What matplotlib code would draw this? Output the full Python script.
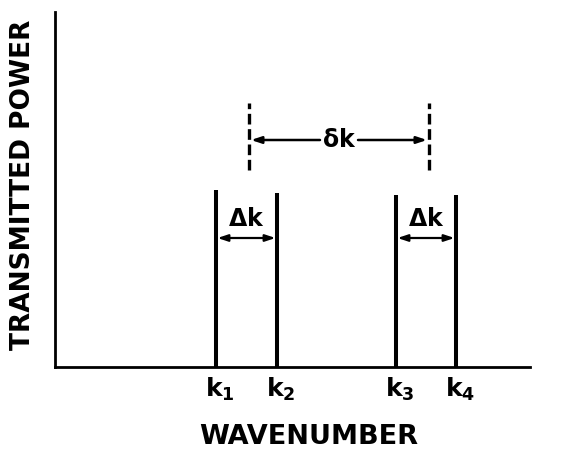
import matplotlib
matplotlib.use('Agg')
import matplotlib.pyplot as plt

plt.rcParams['mathtext.fontset'] = 'dejavusans'

# wavenumber positions of the four transmitted lines and their heights
k_labels = ['k_1', 'k_2', 'k_3', 'k_4']
k_pos = [161, 222, 341, 401]
k_power = [177, 174, 172, 172]

# dashed markers for the line-pair separation (delta k)
sep_pos = [194, 374]
sep_span = (197, 264)
sep_y = 227
delta_y = 129

font = dict(family='DejaVu Sans', weight='heavy', color='black')

fig = plt.figure(figsize=(5.64, 4.55), dpi=100)
ax = fig.add_axes([55 / 564, 88 / 455, 475 / 564, 355 / 455])
ax.set_xlim(0, 475)
ax.set_ylim(0, 355)

for s in ['top', 'right']:
    ax.spines[s].set_visible(False)
for s in ['left', 'bottom']:
    ax.spines[s].set_linewidth(2)
ax.set_xticks([])
ax.set_yticks([])

ax.vlines(k_pos, 0, k_power, color='black', lw=2.9)
ax.vlines(sep_pos, sep_span[0], sep_span[1], color='black', lw=2.4, linestyles=(0, (3.2, 1.4)))

# delta-k separation arrow
mid = (sep_pos[0] + sep_pos[1]) / 2
ax.text(mid, sep_y, r'$\mathbf{\delta k}$', ha='center', va='center', fontsize=17, **font)
arrow = dict(arrowstyle='-|>,head_length=0.6,head_width=0.2', color='black', lw=1.8, shrinkA=0, shrinkB=0)
ax.annotate('', xy=(sep_pos[0] + 2, sep_y), xytext=(mid - 19, sep_y), arrowprops=arrow)
ax.annotate('', xy=(sep_pos[1] - 2, sep_y), xytext=(mid + 19, sep_y), arrowprops=arrow)

# Delta-k line widths
darrow = dict(arrowstyle='<|-|>,head_length=0.6,head_width=0.2', color='black', lw=1.6, shrinkA=0, shrinkB=0)
for a, b in [(k_pos[0], k_pos[1]), (k_pos[2], k_pos[3])]:
    ax.annotate('', xy=(a + 1.5, delta_y), xytext=(b - 1.5, delta_y), arrowprops=darrow)
    ax.text((a + b) / 2, delta_y + 7, r'$\mathbf{\Delta k}$', ha='center', va='bottom', fontsize=17, **font)

for x, lab in zip(k_pos, k_labels):
    ax.text(x + 4, -9, r'$\mathbf{%s}$' % lab, ha='center', va='top', fontsize=18, **font)

fig.text(309 / 564, 1 - 437 / 455, 'WAVENUMBER', ha='center', va='center', fontsize=19.5, **font)
fig.text(23 / 564, 1 - 185 / 455, 'TRANSMITTED POWER', ha='center', va='center', rotation=90, fontsize=19, **font)

fig.savefig('out.png', dpi=100)
